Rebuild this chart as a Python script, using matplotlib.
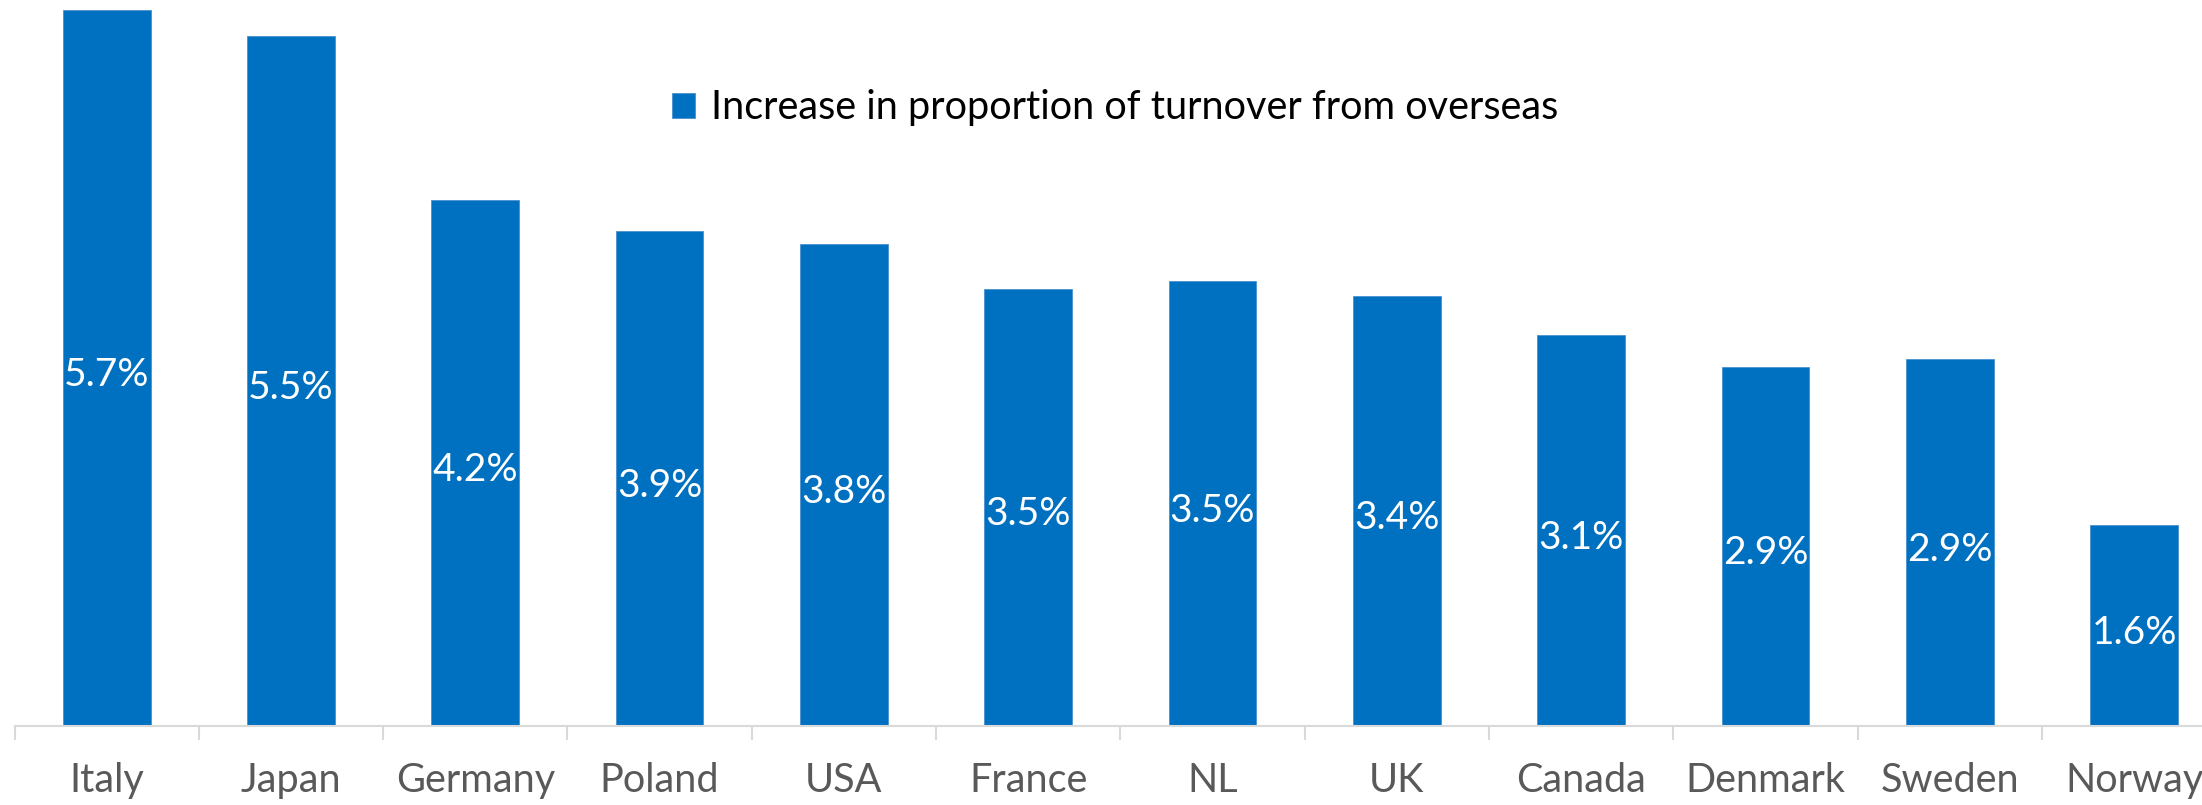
import numpy as np
import matplotlib
matplotlib.use('Agg')
import matplotlib.pyplot as plt

countries = ['Italy', 'Japan', 'Germany', 'Poland', 'USA', 'France',
             'NL', 'UK', 'Canada', 'Denmark', 'Sweden', 'Norway']
increase = [5.70, 5.49, 4.19, 3.94, 3.84, 3.48, 3.54, 3.42, 3.11, 2.86, 2.92, 1.60]
series_name = 'Increase in proportion of turnover from overseas'

BAR_COLOR = '#0070C0'
AXIS_GREY = '#D9D9D9'
TEXT_GREY = '#595959'

plt.rcParams['font.family'] = ['Lato', 'DejaVu Sans']

fig = plt.figure(figsize=(22.02, 8.05), dpi=100)
# plot area runs a little past the right edge of the canvas
ax = fig.add_axes([0.0066, 0.098, 1.0044, 0.902])

x = np.arange(len(countries))
bars = ax.bar(x, increase, width=0.476, color=BAR_COLOR, edgecolor='#4A90D0',
              linewidth=0.6, label=series_name, zorder=2)

for xi, v in zip(x, increase):
    ax.annotate(f'{v:.1f}%', xy=(xi, v / 2), xytext=(0, -5),
                textcoords='offset points', ha='center', va='center',
                color='white', fontsize=28)

ax.set_xlim(-0.5, len(countries) - 0.5)
ax.set_ylim(0, 5.78)

ax.set_xticks(x)
ax.set_xticklabels(countries)
ax.set_xticks(np.arange(-0.5, len(countries), 1), minor=True)
ax.tick_params(axis='x', which='major', length=0, pad=26, labelsize=28.5,
               labelcolor=TEXT_GREY)
ax.tick_params(axis='x', which='minor', length=10, width=1.5, color=AXIS_GREY)
ax.set_yticks([])

for side in ['top', 'right', 'left']:
    ax.spines[side].set_visible(False)
ax.spines['bottom'].set_color(AXIS_GREY)
ax.spines['bottom'].set_linewidth(1.5)

ax.legend(loc='center left', bbox_to_anchor=(0.305, 0.866),
          bbox_transform=fig.transFigure, frameon=False, fontsize=28.5,
          handlelength=0.6, handleheight=0.6, handletextpad=0.4,
          borderaxespad=0, borderpad=0)

fig.savefig('out.png', dpi=100)
